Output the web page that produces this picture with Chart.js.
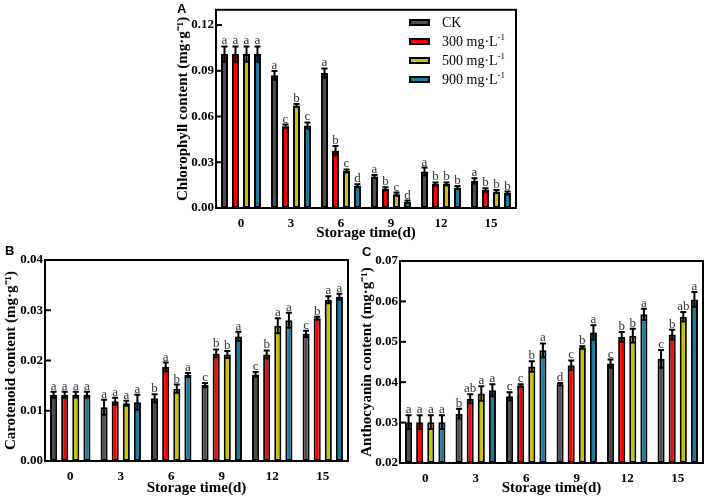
<!DOCTYPE html>
<html>
<head>
<meta charset="utf-8">
<script src="https://cdn.jsdelivr.net/npm/chart.js@4.4.0/dist/chart.umd.min.js"></script>
<style>
  body { margin: 0; background: #fff; width: 708px; height: 500px; position: relative; overflow: hidden; }
  canvas { position: absolute; }
  .tag { position: absolute; font: bold 13px "Liberation Sans", Arial, sans-serif; color: #000; }
  #legend { position: absolute; left: 409px; top: 13px; font: 14px "Liberation Serif", serif; color: #000; }
  .item { height: 19px; display: flex; align-items: center; white-space: nowrap; }
  .sw { width: 17px; height: 3px; border: 2px solid #000; margin-right: 12px; }
  .item sup { font-size: 9px; line-height: 0; }
</style>
</head>
<body>
<canvas id="chartA" width="360" height="244" style="left:160px;top:0px"></canvas>
<canvas id="chartB" width="356" height="260" style="left:0px;top:240px"></canvas>
<canvas id="chartC" width="358" height="260" style="left:350px;top:240px"></canvas>
<div class="tag" style="left:177px;top:1px">A</div>
<div class="tag" style="left:5px;top:243px">B</div>
<div class="tag" style="left:362px;top:244px">C</div>
<div id="legend"></div>

<script>
const categories = ["0", "3", "6", "9", "12", "15"];
const seriesLabels = ["CK", "300 mg·L⁻¹", "500 mg·L⁻¹", "900 mg·L⁻¹"];

// chlorophyll (A) - rows: CK, 300, 500, 900
const chlMean = [
  [0.101, 0.087, 0.0885, 0.0206, 0.0239, 0.0178],
  [0.101, 0.0537, 0.0376, 0.0126, 0.0158, 0.0119],
  [0.101, 0.0672, 0.0243, 0.0091, 0.0158, 0.0108],
  [0.101, 0.0541, 0.0146, 0.0041, 0.0134, 0.0098],
];
const chlErr = [
  [0.005, 0.0028, 0.003, 0.001, 0.0026, 0.0017],
  [0.005, 0.001, 0.003, 0.001, 0.001, 0.001],
  [0.005, 0.001, 0.001, 0.001, 0.001, 0.001],
  [0.005, 0.002, 0.001, 0.0008, 0.001, 0.001],
];
const chlLetters = [
  ["a", "a", "a", "a", "a", "a"],
  ["a", "c", "b", "b", "b", "b"],
  ["a", "b", "c", "c", "b", "b"],
  ["a", "c", "d", "d", "b", "b"],
];

// carotenoid (B)
const carMean = [
  [0.0132, 0.0107, 0.0125, 0.0151, 0.0172, 0.0253],
  [0.0132, 0.0119, 0.0187, 0.0214, 0.0212, 0.0284],
  [0.0132, 0.0115, 0.0144, 0.0212, 0.0269, 0.0321],
  [0.0132, 0.0117, 0.0171, 0.0248, 0.028, 0.0327],
];
const carErr = [
  [0.0006, 0.0015, 0.0008, 0.0004, 0.0005, 0.0006],
  [0.0006, 0.0007, 0.0009, 0.0008, 0.0008, 0.0003],
  [0.0006, 0.0005, 0.0008, 0.0007, 0.0015, 0.0007],
  [0.0006, 0.0015, 0.0004, 0.0009, 0.0015, 0.0006],
];
const carLetters = [
  ["a", "a", "b", "c", "c", "c"],
  ["a", "a", "a", "b", "b", "b"],
  ["a", "a", "b", "b", "a", "a"],
  ["a", "a", "a", "a", "a", "a"],
];

// anthocyanin (C)
const antMean = [
  [0.0301, 0.0322, 0.0365, 0.0395, 0.0446, 0.0458],
  [0.0301, 0.0359, 0.0392, 0.0442, 0.0512, 0.0518],
  [0.0301, 0.0372, 0.0439, 0.0486, 0.0515, 0.0562],
  [0.0301, 0.038, 0.0479, 0.0523, 0.0568, 0.0605],
];
const antErr = [
  [0.0017, 0.0012, 0.001, 0.0003, 0.001, 0.0022],
  [0.0017, 0.0011, 0.0003, 0.0012, 0.0012, 0.0012],
  [0.0017, 0.0018, 0.0013, 0.0003, 0.0017, 0.0012],
  [0.0017, 0.0015, 0.0017, 0.0018, 0.0014, 0.0018],
];
const antLetters = [
  ["a", "b", "c", "d", "c", "c"],
  ["a", "ab", "c", "c", "b", "b"],
  ["a", "a", "b", "b", "b", "ab"],
  ["a", "a", "a", "a", "a", "a"],
];

const colors = ["#4d4d4d", "#ff0000", "#c8c400", "#1b7c9c"];

Chart.defaults.font.family = '"Liberation Serif", "Times New Roman", serif';
Chart.defaults.color = "#000";

// error bars, letters, frame and inward y ticks
const extras = {
  id: "extras",
  afterDatasetsDraw(chart) {
    const ctx = chart.ctx;
    const y = chart.scales.y;
    const area = chart.chartArea;
    ctx.save();
    ctx.strokeStyle = "#000";
    ctx.lineWidth = 2;
    chart.data.datasets.forEach((ds, i) => {
      chart.getDatasetMeta(i).data.forEach((bar, j) => {
        const top = y.getPixelForValue(ds.data[j] + ds.err[j]);
        const bot = y.getPixelForValue(ds.data[j] - ds.err[j]);
        ctx.beginPath();
        ctx.moveTo(bar.x, top);
        ctx.lineTo(bar.x, bot);
        ctx.moveTo(bar.x - 3, top);
        ctx.lineTo(bar.x + 3, top);
        ctx.moveTo(bar.x - 3, bot);
        ctx.lineTo(bar.x + 3, bot);
        ctx.stroke();
        ctx.fillStyle = "#333";
        ctx.font = '13px "Liberation Serif", serif';
        ctx.textAlign = "center";
        ctx.textBaseline = "alphabetic";
        ctx.fillText(ds.letters[j], bar.x, top - 2);
      });
    });
    ctx.strokeRect(area.left, area.top, area.width, area.height);
    y.ticks.forEach(t => {
      const py = y.getPixelForValue(t.value);
      ctx.beginPath();
      ctx.moveTo(area.left, py);
      ctx.lineTo(area.left + 6, py);
      ctx.stroke();
    });
    ctx.restore();
  }
};

function makeChart(id, means, errs, letters, o) {
  const datasets = means.map((m, i) => ({
    label: seriesLabels[i],
    data: m,
    err: errs[i],
    letters: letters[i],
    backgroundColor: colors[i],
    borderColor: "#000",
    borderWidth: 2,
    borderSkipped: false,
    base: o.min,
    categoryPercentage: 0.88,
    barPercentage: 0.64,
  }));
  return new Chart(document.getElementById(id), {
    type: "bar",
    data: { labels: categories, datasets },
    options: {
      responsive: false,
      animation: false,
      layout: { padding: { top: o.padTop, right: o.padRight, left: 0, bottom: 0 } },
      plugins: { legend: { display: false }, tooltip: { enabled: false } },
      scales: {
        x: {
          ticks: { color: "#000", font: { size: 13, weight: "bold" }, padding: 8, maxRotation: 0 },
          grid: { display: false, drawTicks: false },
          border: { display: false },
          title: {
            display: true, text: "Storage time(d)", color: "#000",
            font: { size: 15, weight: "bold" }, padding: { top: 0, bottom: o.xPad },
          },
          afterFit: s => { s.height = o.xh; },
        },
        y: {
          min: o.min,
          max: o.max,
          ticks: {
            stepSize: o.step, includeBounds: false, padding: 2, color: "#000",
            font: { size: 13, weight: "bold" }, callback: v => v.toFixed(2),
          },
          grid: { display: false, drawTicks: false },
          border: { display: false },
          title: {
            display: true, text: o.title, color: "#000",
            font: { size: o.titleSize, weight: "bold" }, padding: { top: o.yPad, bottom: 0 },
          },
          afterFit: s => { s.width = o.yw; },
        },
      },
    },
    plugins: [extras],
  });
}

makeChart("chartA", chlMean, chlErr, chlLetters, {
  min: 0, max: 0.13, step: 0.03, title: "Chlorophyll content (mg·g⁻¹)", titleSize: 15,
  padTop: 8, padRight: 4, yw: 56, xh: 36, yPad: 14, xPad: 2,
});
makeChart("chartB", carMean, carErr, carLetters, {
  min: 0, max: 0.04, step: 0.01, title: "Carotenoid content (mg·g⁻¹)", titleSize: 15,
  padTop: 20, padRight: 8, yw: 45, xh: 39, yPad: 2, xPad: 3,
});
makeChart("chartC", antMean, antErr, antLetters, {
  min: 0.02, max: 0.07, step: 0.01, title: "Anthocyanin content (mg·g⁻¹)", titleSize: 15,
  padTop: 21, padRight: 5, yw: 50, xh: 37, yPad: 8, xPad: 3,
});

// legend for panel A
const legend = document.getElementById("legend");
seriesLabels.forEach((name, i) => {
  const row = document.createElement("div");
  row.className = "item";
  const sw = document.createElement("div");
  sw.className = "sw";
  sw.style.background = colors[i];
  const txt = document.createElement("span");
  txt.innerHTML = name.replace("⁻¹", "<sup>-1</sup>");
  row.appendChild(sw);
  row.appendChild(txt);
  legend.appendChild(row);
});
</script>
</body>
</html>
